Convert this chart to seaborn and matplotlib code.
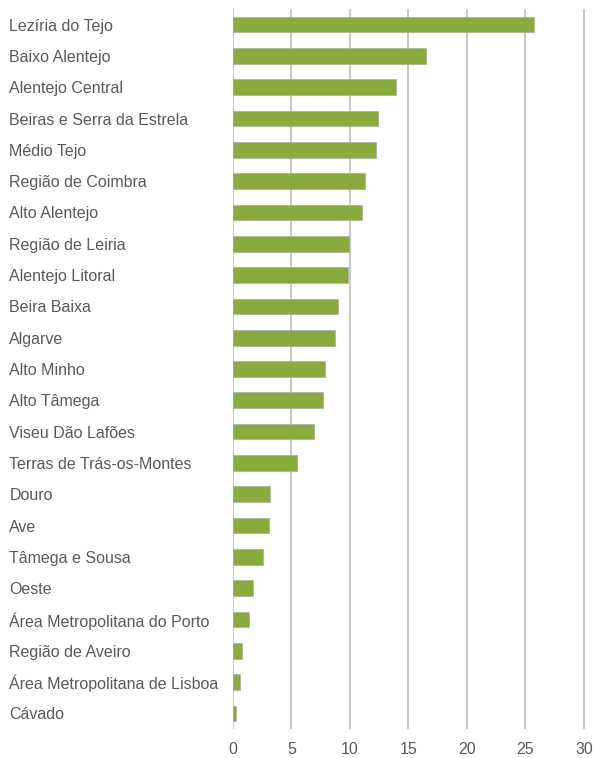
"""
Horizontal bar chart of NUTS III regions (values read from reference picture).
"""

import matplotlib
matplotlib.use("Agg")
import matplotlib.pyplot as plt
import seaborn as sns

# --- DATA ---
regions = [
    "Lezíria do Tejo", "Baixo Alentejo", "Alentejo Central",
    "Beiras e Serra da Estrela", "Médio Tejo", "Região de Coimbra",
    "Alto Alentejo", "Região de Leiria", "Alentejo Litoral", "Beira Baixa",
    "Algarve", "Alto Minho", "Alto Tâmega", "Viseu Dão Lafões",
    "Terras de Trás-os-Montes", "Douro", "Ave", "Tâmega e Sousa", "Oeste",
    "Área Metropolitana do Porto", "Região de Aveiro",
    "Área Metropolitana de Lisboa", "Cávado",
]
values = [
    25.75, 16.5, 13.95, 12.4, 12.2, 11.3,
    11.05, 9.9, 9.8, 9.0,
    8.75, 7.9, 7.65, 6.9,
    5.45, 3.2, 3.1, 2.6, 1.75,
    1.4, 0.8,
    0.6, 0.25,
]
x_ticks = [0, 5, 10, 15, 20, 25, 30]

# --- STYLE ---
BAR_COLOR = "#8AAA3E"
GRID_COLOR = "#C4C4C4"
TEXT_COLOR = "#595959"
FONT_SIZE = 11.5

sns.set_style("white")
plt.rcParams["font.family"] = ["Liberation Sans", "DejaVu Sans"]

fig = plt.figure(figsize=(5.94, 7.58), dpi=100)
ax = fig.add_axes([233 / 594, 1 - 729 / 758, 354.5 / 594, 720 / 758])

sns.barplot(x=values, y=regions, orient="h", color=BAR_COLOR, saturation=1,
            width=0.5, edgecolor="#A0A0A0", linewidth=0.4, ax=ax, zorder=3)

ax.set_xlim(0, 30.3)
ax.set_xticks(x_ticks)
ax.xaxis.grid(True, color=GRID_COLOR, linewidth=1.3, zorder=0)
ax.set_axisbelow(True)
for s in ax.spines.values():
    s.set_visible(False)

ax.set_xlabel("")
ax.set_ylabel("")
ax.tick_params(axis="x", length=0, pad=9, labelsize=FONT_SIZE, labelcolor=TEXT_COLOR)
ax.tick_params(axis="y", length=0, pad=161, labelsize=FONT_SIZE, labelcolor=TEXT_COLOR)
for lbl in ax.get_yticklabels():
    lbl.set_horizontalalignment("left")

fig.savefig("out.png", dpi=100)
